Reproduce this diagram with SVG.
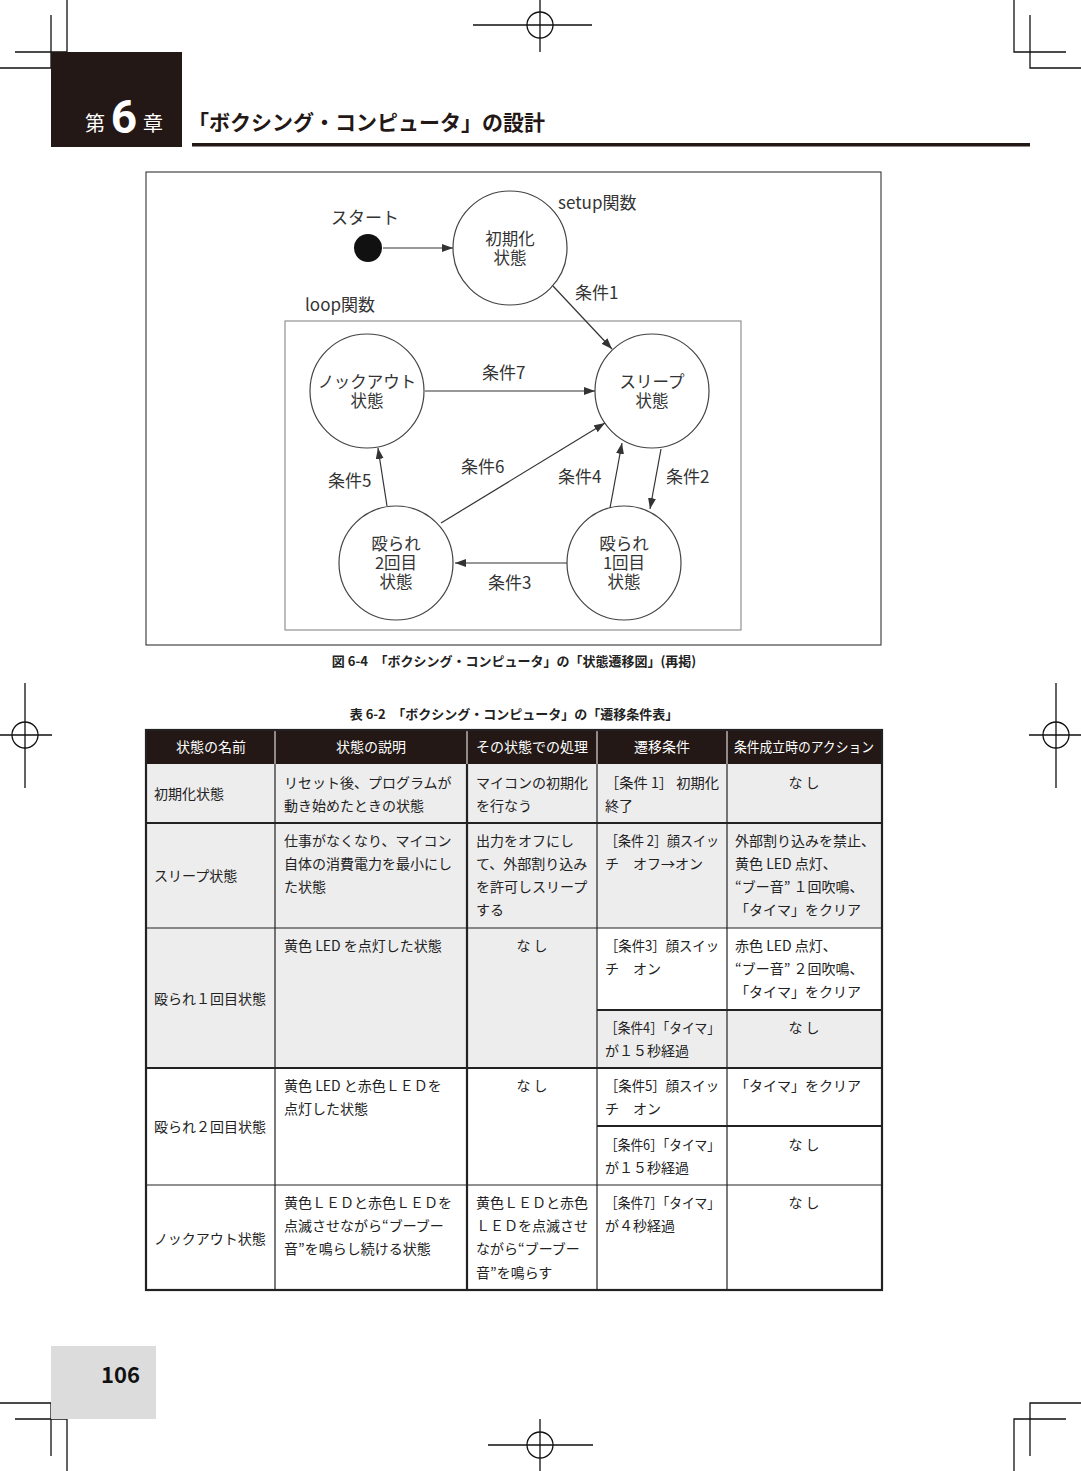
<svg xmlns="http://www.w3.org/2000/svg" width="1081" height="1471" viewBox="0 0 1081 1471">
<defs>
<style>
text{font-family:"Noto Sans CJK JP","Noto Sans",sans-serif;}
.crop{stroke:#111;stroke-width:1.3;fill:none;}
.dg{font-size:16.5px;fill:#333;}
.lbl{font-size:17px;fill:#333;}
.c{text-anchor:middle;}
.node circle{fill:#fff;stroke:#444;stroke-width:1.2;}
.conn line{stroke:#333;stroke-width:1.2;marker-end:url(#ah);}
.th{font-size:14px;fill:#fff;text-anchor:middle;}
.td{font-size:14px;fill:#222;}
.g{fill:#ededed;}
.thin{stroke:#222;stroke-width:1.2;}
.thk{stroke:#222;stroke-width:2.2;}
.cap{font-size:13px;font-weight:bold;fill:#222;text-anchor:middle;}
</style>
<marker id="ah" viewBox="0 0 11 8" refX="11" refY="4" markerWidth="11" markerHeight="8" markerUnits="userSpaceOnUse" orient="auto">
<path d="M0,0 L11,4 L0,8 z" fill="#333"/>
</marker>
</defs>
<rect width="1081" height="1471" fill="#fff"/>

<!-- crop marks -->
<g id="cropmarks">
<path class="crop" d="M67,0 V52 H15 M51,15 V68 H0"/>
<path class="crop" d="M1014,0 V52 H1066 M1030,15 V68 H1081"/>
<path class="crop" d="M0,1403 H51 V1456 M15,1419 H67 V1471"/>
<path class="crop" d="M1081,1403 H1030 V1456 M1066,1419 H1014 V1471"/>
<g class="crop"><circle cx="540" cy="25" r="13"/><path d="M473,25 H592 M540,0 V52"/></g>
<g class="crop"><circle cx="540" cy="1445" r="13"/><path d="M488,1445 H593 M540,1419 V1471"/></g>
<g class="crop"><circle cx="25" cy="735" r="13"/><path d="M0,735 H52 M25,683 V788"/></g>
<g class="crop"><circle cx="1056" cy="735" r="13"/><path d="M1029,735 H1081 M1056,683 V788"/></g>
</g>

<!-- chapter header -->
<g id="header">
<rect x="51" y="52" width="131" height="95" fill="#231815"/>
<text x="95" y="131" font-size="20" fill="#fff" text-anchor="middle">第</text>
<text x="124" y="133" font-size="46" font-weight="bold" fill="#fff" text-anchor="middle" style="font-family:Roboto,'Liberation Sans',sans-serif">6</text>
<text x="153" y="131" font-size="20" fill="#fff" text-anchor="middle">章</text>
<text x="188" y="130" font-size="21" font-weight="bold" fill="#231815">「ボクシング・コンピュータ」の設計</text>
<rect x="192" y="143" width="838" height="3.5" fill="#231815"/>
</g>

<!-- diagram frame -->
<rect x="146" y="172" width="735" height="473" fill="none" stroke="#333" stroke-width="1.1"/>
<rect x="285" y="321" width="456" height="309" fill="none" stroke="#888" stroke-width="1.1"/>
<text class="lbl" x="305" y="311">loop関数</text>
<text class="lbl" x="558" y="209">setup関数</text>

<g id="start">
<circle cx="368" cy="248" r="14" fill="#111"/>
<text class="lbl c" x="365" y="224">スタート</text>
</g>
<g id="init" class="node">
<circle cx="510" cy="248" r="57"/>
<text class="dg c"><tspan x="510" y="245">初期化</tspan><tspan x="510" y="264">状態</tspan></text>
</g>
<g id="knockout" class="node">
<circle cx="367" cy="391" r="57"/>
<text class="dg c"><tspan x="367" y="388">ノックアウト</tspan><tspan x="367" y="407">状態</tspan></text>
</g>
<g id="sleep" class="node">
<circle cx="652" cy="391" r="57"/>
<text class="dg c"><tspan x="652" y="388">スリープ</tspan><tspan x="652" y="407">状態</tspan></text>
</g>
<g id="hit2" class="node">
<circle cx="396" cy="563" r="57"/>
<text class="dg c"><tspan x="396" y="550">殴られ</tspan><tspan x="396" y="569">2回目</tspan><tspan x="396" y="588">状態</tspan></text>
</g>
<g id="hit1" class="node">
<circle cx="624" cy="563" r="57"/>
<text class="dg c"><tspan x="624" y="550">殴られ</tspan><tspan x="624" y="569">1回目</tspan><tspan x="624" y="588">状態</tspan></text>
</g>

<g id="connectors" class="conn">
<line x1="383" y1="248" x2="453" y2="248"/>
<line x1="553" y1="286" x2="612" y2="349"/>
<line x1="425" y1="391" x2="595" y2="391"/>
<line x1="441" y1="523" x2="605" y2="423"/>
<line x1="387" y1="506" x2="378" y2="448"/>
<line x1="610" y1="508" x2="622" y2="443"/>
<line x1="661" y1="449" x2="650" y2="509"/>
<line x1="567" y1="563" x2="455" y2="563"/>
</g>
<g id="conn-labels">
<text class="lbl" x="575" y="299">条件1</text>
<text class="lbl" x="482" y="379">条件7</text>
<text class="lbl" x="461" y="473">条件6</text>
<text class="lbl" x="328" y="487">条件5</text>
<text class="lbl" x="558" y="483">条件4</text>
<text class="lbl" x="666" y="483">条件2</text>
<text class="lbl" x="488" y="589">条件3</text>
</g>

<text class="cap" x="514" y="666">図 6-4　「ボクシング・コンピュータ」の「状態遷移図」(再掲)</text>
<text class="cap" x="514" y="719">表 6-2　「ボクシング・コンピュータ」の「遷移条件表」</text>

<!-- table -->
<g id="table">
<rect x="146" y="730" width="736" height="34" fill="#231815"/>
<rect class="g" x="146" y="764" width="736" height="164"/>
<rect class="g" x="146" y="928" width="451" height="140"/>
<rect class="g" x="597" y="1010" width="285" height="58"/>

<text class="th" x="211" y="752">状態の名前</text>
<text class="th" x="371" y="752">状態の説明</text>
<text class="th" x="532" y="752">その状態での処理</text>
<text class="th" x="662" y="752">遷移条件</text>
<text class="th" x="804" y="752" textLength="140" lengthAdjust="spacingAndGlyphs">条件成立時のアクション</text>

<g stroke="#fff" stroke-width="1"><line x1="275" y1="730" x2="275" y2="764"/><line x1="467" y1="730" x2="467" y2="764"/><line x1="597" y1="730" x2="597" y2="764"/><line x1="727" y1="730" x2="727" y2="764"/></g>

<line class="thin" x1="275" y1="764" x2="275" y2="1290"/>
<line class="thk" x1="467" y1="764" x2="467" y2="1290"/>
<line class="thin" x1="597" y1="764" x2="597" y2="1290"/>
<line class="thin" x1="727" y1="764" x2="727" y2="1290"/>
<line class="thk" x1="146" y1="823" x2="882" y2="823"/>
<line class="thin" x1="146" y1="928" x2="882" y2="928"/>
<line class="thk" x1="597" y1="1010" x2="882" y2="1010"/>
<line class="thk" x1="146" y1="1068" x2="882" y2="1068"/>
<line class="thk" x1="597" y1="1126" x2="882" y2="1126"/>
<line class="thin" x1="146" y1="1185" x2="882" y2="1185"/>
<rect x="146" y="730" width="736" height="560" fill="none" stroke="#222" stroke-width="2.2"/>

<!-- col1 -->
<text class="td" x="154" y="799">初期化状態</text>
<text class="td" x="154" y="881">スリープ状態</text>
<text class="td" x="154" y="1004">殴られ１回目状態</text>
<text class="td" x="154" y="1132">殴られ２回目状態</text>
<text class="td" x="154" y="1244">ノックアウト状態</text>

<!-- col2 -->
<text class="td" x="284" y="788">リセット後、プログラムが</text>
<text class="td" x="284" y="811">動き始めたときの状態</text>
<text class="td" x="284" y="846">仕事がなくなり、マイコン</text>
<text class="td" x="284" y="869">自体の消費電力を最小にし</text>
<text class="td" x="284" y="892">た状態</text>
<text class="td" x="284" y="951">黄色 LED を点灯した状態</text>
<text class="td" x="284" y="1091">黄色 LED と赤色ＬＥＤを</text>
<text class="td" x="284" y="1114">点灯した状態</text>
<text class="td" x="284" y="1208">黄色ＬＥＤと赤色ＬＥＤを</text>
<text class="td" x="284" y="1231">点滅させながら“ブーブー</text>
<text class="td" x="284" y="1254">音”を鳴らし続ける状態</text>

<!-- col3 -->
<text class="td" x="476" y="788">マイコンの初期化</text>
<text class="td" x="476" y="811">を行なう</text>
<text class="td" x="476" y="846">出力をオフにし</text>
<text class="td" x="476" y="869">て、外部割り込み</text>
<text class="td" x="476" y="892">を許可しスリープ</text>
<text class="td" x="476" y="915">する</text>
<text class="td c" x="532" y="951">な し</text>
<text class="td c" x="532" y="1091">な し</text>
<text class="td" x="476" y="1208">黄色ＬＥＤと赤色</text>
<text class="td" x="476" y="1231">ＬＥＤを点滅させ</text>
<text class="td" x="476" y="1254">ながら“ブーブー</text>
<text class="td" x="476" y="1278">音”を鳴らす</text>

<!-- col4 -->
<text class="td" x="605" y="788" textLength="114" lengthAdjust="spacingAndGlyphs">［条件 1］ 初期化</text>
<text class="td" x="605" y="811">終了</text>
<text class="td" x="605" y="846" textLength="114" lengthAdjust="spacingAndGlyphs">［条件 2］顔スイッ</text>
<text class="td" x="605" y="869">チ　オフ→オン</text>
<text class="td" x="605" y="951" textLength="114" lengthAdjust="spacingAndGlyphs">［条件3］顔スイッ</text>
<text class="td" x="605" y="974">チ　オン</text>
<text class="td" x="605" y="1033" textLength="115" lengthAdjust="spacingAndGlyphs">［条件4］「タイマ」</text>
<text class="td" x="605" y="1056">が１５秒経過</text>
<text class="td" x="605" y="1091" textLength="114" lengthAdjust="spacingAndGlyphs">［条件5］顔スイッ</text>
<text class="td" x="605" y="1114">チ　オン</text>
<text class="td" x="605" y="1150" textLength="115" lengthAdjust="spacingAndGlyphs">［条件6］「タイマ」</text>
<text class="td" x="605" y="1173">が１５秒経過</text>
<text class="td" x="605" y="1208" textLength="115" lengthAdjust="spacingAndGlyphs">［条件7］「タイマ」</text>
<text class="td" x="605" y="1231">が４秒経過</text>

<!-- col5 -->
<text class="td c" x="804" y="788">な し</text>
<text class="td" x="735" y="846">外部割り込みを禁止、</text>
<text class="td" x="735" y="869">黄色 LED 点灯、</text>
<text class="td" x="735" y="892">“ブー音” １回吹鳴、</text>
<text class="td" x="735" y="915">「タイマ」をクリア</text>
<text class="td" x="735" y="951">赤色 LED 点灯、</text>
<text class="td" x="735" y="974">“ブー音” ２回吹鳴、</text>
<text class="td" x="735" y="997">「タイマ」をクリア</text>
<text class="td c" x="804" y="1033">な し</text>
<text class="td" x="735" y="1091">「タイマ」をクリア</text>
<text class="td c" x="804" y="1150">な し</text>
<text class="td c" x="804" y="1208">な し</text>
</g>

<!-- page number -->
<g id="pageno">
<rect x="51" y="1346" width="105" height="73" fill="#dcdcdc"/>
<text x="140" y="1383" font-size="22" font-weight="bold" fill="#111" text-anchor="end">106</text>
</g>
</svg>
